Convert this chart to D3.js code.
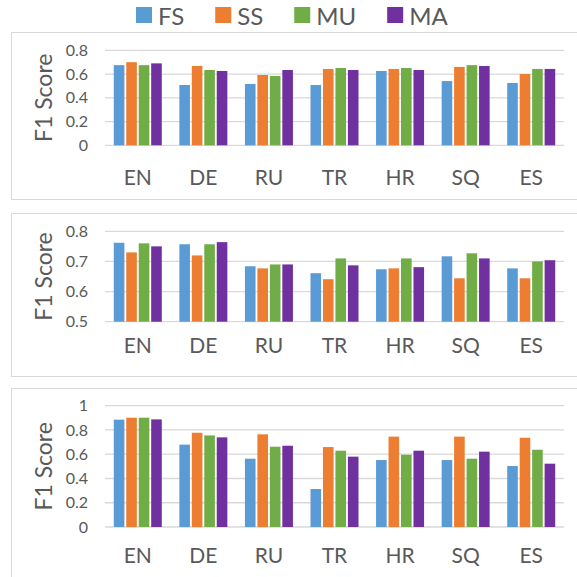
<!DOCTYPE html>
<html>
<head>
<meta charset="utf-8">
<script src="https://d3js.org/d3.v7.min.js"></script>
<style>
  body { margin: 0; background: #fff; }
  text { font-family: Lato, "Open Sans", sans-serif; fill: #595959; }
</style>
</head>
<body>
<script>
// categories and series
var languages = ["EN", "DE", "RU", "TR", "HR", "SQ", "ES"];
var series = ["FS", "SS", "MU", "MA"];
var colors = ["#5B9BD5", "#ED7D31", "#70AD47", "#7030A0"];

// panel 1 values (per series, in language order)
var top_FS = [0.675, 0.508, 0.516, 0.508, 0.626, 0.541, 0.525];
var top_SS = [0.700, 0.668, 0.592, 0.643, 0.643, 0.660, 0.600];
var top_MU = [0.675, 0.634, 0.584, 0.651, 0.651, 0.675, 0.643];
var top_MA = [0.690, 0.626, 0.634, 0.634, 0.634, 0.668, 0.643];
var topTicks = [0, 0.2, 0.4, 0.6, 0.8];

// panel 2 values
var mid_FS = [0.762, 0.757, 0.684, 0.661, 0.674, 0.717, 0.677];
var mid_SS = [0.730, 0.720, 0.677, 0.641, 0.677, 0.644, 0.644];
var mid_MU = [0.760, 0.757, 0.690, 0.710, 0.710, 0.727, 0.700];
var mid_MA = [0.750, 0.764, 0.690, 0.687, 0.681, 0.710, 0.704];
var midTicks = [0.5, 0.6, 0.7, 0.8];

// panel 3 values
var bot_FS = [0.885, 0.679, 0.563, 0.313, 0.552, 0.552, 0.503];
var bot_SS = [0.901, 0.777, 0.764, 0.659, 0.745, 0.745, 0.736];
var bot_MU = [0.901, 0.755, 0.662, 0.629, 0.596, 0.563, 0.637];
var bot_MA = [0.887, 0.739, 0.670, 0.580, 0.629, 0.621, 0.522];
var botTicks = [0, 0.2, 0.4, 0.6, 0.8, 1];

var W = 577, H = 577;

var svg = d3.select("body").append("svg")
    .attr("width", W)
    .attr("height", H);

var color = d3.scaleOrdinal().domain(series).range(colors);

var x0 = d3.scaleBand().domain(languages).range([105, 564]).paddingInner(0).paddingOuter(0);
var groupW = 48;
var x1 = d3.scaleBand().domain(series)
    .range([(x0.bandwidth() - groupW) / 2, (x0.bandwidth() + groupW) / 2])
    .paddingInner(0.15);

var panels = [
  {values: [top_FS, top_SS, top_MU, top_MA], ticks: topTicks, domain: [0, 0.8],
   box: [11, 32, 570, 167], yr: [145.3, 50.3], labelY: 185},
  {values: [mid_FS, mid_SS, mid_MU, mid_MA], ticks: midTicks, domain: [0.5, 0.8],
   box: [11, 213, 570, 163], yr: [321.7, 231.3], labelY: 353},
  {values: [bot_FS, bot_SS, bot_MU, bot_MA], ticks: botTicks, domain: [0, 1],
   box: [11, 388, 570, 200], yr: [527, 405.7], labelY: 563}
];

panels.forEach(function(p) {
  var g = svg.append("g");

  g.append("rect")
    .attr("x", p.box[0] + 0.5).attr("y", p.box[1] + 0.5)
    .attr("width", p.box[2]).attr("height", p.box[3])
    .attr("fill", "none").attr("stroke", "#D9D9D9");

  var y = d3.scaleLinear().domain(p.domain).range(p.yr);

  // gridlines
  g.selectAll(".grid")
    .data(p.ticks)
    .enter().append("line")
    .attr("x1", 105).attr("x2", 564)
    .attr("y1", function(d) { return y(d); })
    .attr("y2", function(d) { return y(d); })
    .attr("stroke", "#D9D9D9").attr("stroke-width", 1.3);

  // y axis labels
  var yAxis = d3.axisLeft(y).tickValues(p.ticks).tickSize(0).tickPadding(17)
    .tickFormat(function(d) { return String(d); });
  var ya = g.append("g").attr("transform", "translate(105,0)").call(yAxis);
  ya.select(".domain").remove();
  ya.selectAll("text").style("font-size", "16px").attr("fill", "#595959")
    .style("font-family", "Lato, 'Open Sans', sans-serif");

  // x labels
  g.selectAll(".xl")
    .data(languages)
    .enter().append("text")
    .attr("x", function(d) { return x0(d) + x0.bandwidth() / 2; })
    .attr("y", p.labelY)
    .attr("text-anchor", "middle")
    .style("font-size", "21px")
    .text(function(d) { return d; });

  // y title
  var cy = (p.yr[0] + p.yr[1]) / 2;
  g.append("text")
    .attr("transform", "translate(52," + cy + ") rotate(-90)")
    .attr("text-anchor", "middle")
    .style("font-size", "23px")
    .text("F1 Score");

  // bars
  var groups = g.selectAll(".grp")
    .data(languages)
    .enter().append("g")
    .attr("transform", function(d) { return "translate(" + x0(d) + ",0)"; });

  groups.selectAll("rect")
    .data(function(d, i) {
      return series.map(function(s, k) { return {s: s, v: p.values[k][i]}; });
    })
    .enter().append("rect")
    .attr("x", function(d) { return x1(d.s); })
    .attr("width", x1.bandwidth())
    .attr("y", function(d) { return y(d.v); })
    .attr("height", function(d) { return y(p.domain[0]) - y(d.v); })
    .attr("fill", function(d) { return color(d.s); });
});

// legend
var legend = svg.append("g");
var lx = 136;
series.forEach(function(s) {
  legend.append("rect")
    .attr("x", lx).attr("y", 7)
    .attr("width", 16).attr("height", 16)
    .attr("fill", color(s));
  var t = legend.append("text")
    .attr("x", lx + 22).attr("y", 25)
    .style("font-size", "24px")
    .text(s);
  lx = lx + 22 + t.node().getComputedTextLength() + 31;
});
</script>
</body>
</html>
